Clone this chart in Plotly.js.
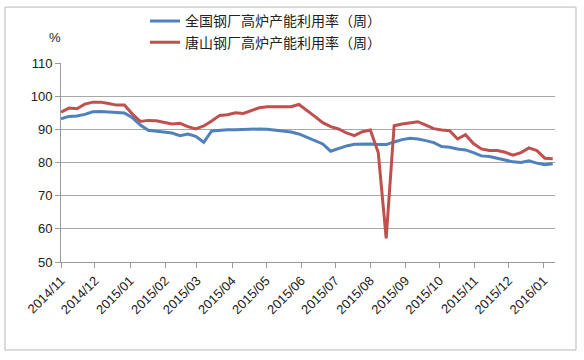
<!DOCTYPE html>
<html>
<head>
<meta charset="utf-8">
<script src="https://cdn.plot.ly/plotly-3.0.1.min.js"></script>
<style>html,body{margin:0;padding:0;background:#fff;}#chart{width:584px;height:360px;}</style>
</head>
<body>
<div id="chart"></div>
<script>
var weeks = [
 "2014-11-01","2014-11-08","2014-11-15","2014-11-22","2014-11-29","2014-12-06","2014-12-13","2014-12-20","2014-12-27",
 "2015-01-03","2015-01-10","2015-01-17","2015-01-24","2015-01-31","2015-02-07","2015-02-14","2015-02-21","2015-02-28",
 "2015-03-07","2015-03-14","2015-03-21","2015-03-28","2015-04-04","2015-04-11","2015-04-18","2015-04-25",
 "2015-05-02","2015-05-09","2015-05-16","2015-05-23","2015-05-30","2015-06-06","2015-06-13","2015-06-20","2015-06-27",
 "2015-07-04","2015-07-11","2015-07-18","2015-07-25","2015-08-01","2015-08-08","2015-08-15","2015-08-22","2015-08-29",
 "2015-09-05","2015-09-12","2015-09-19","2015-09-26","2015-10-03","2015-10-10","2015-10-17","2015-10-24","2015-10-31",
 "2015-11-07","2015-11-14","2015-11-21","2015-11-28","2015-12-05","2015-12-12","2015-12-19","2015-12-26",
 "2016-01-02","2016-01-09"
];
var nationalRate = [
 93.2,93.9,94.0,94.5,95.3,95.4,95.2,95.0,94.9,
 93.5,91.3,89.7,89.4,89.3,88.9,88.1,88.6,87.9,
 86.1,89.5,89.8,89.9,89.9,90.0,90.1,90.1,
 90.0,89.7,89.5,89.2,88.6,87.6,86.7,85.6,83.4,
 84.3,85.0,85.5,85.6,85.6,85.4,85.4,86.2,86.9,
 87.3,87.1,86.6,86.0,84.8,84.6,84.1,83.8,83.0,
 82.0,81.8,81.3,80.9,80.2,80.0,80.5,79.8,
 79.3,79.6
];
var tangshanRate = [
 95.2,96.4,96.2,97.6,98.2,98.2,97.8,97.3,97.3,
 94.6,92.4,92.7,92.6,92.2,91.6,91.8,90.8,90.1,
 91.0,92.5,94.2,94.4,95.0,94.8,95.7,96.5,
 96.8,96.8,96.8,96.8,97.5,95.8,93.9,92.0,90.8,
 90.1,88.9,88.1,89.3,89.8,83.0,57.1,91.1,91.6,
 91.9,92.3,91.3,90.2,89.8,89.6,87.1,88.4,85.7,
 84.1,83.6,83.6,83.1,82.2,83.0,84.4,83.6,
 81.3,81.1
];
var seriesNames = ["全国钢厂高炉产能利用率（周）","唐山钢厂高炉产能利用率（周）"];
var yUnit = "%";

var traces = [
 {x: weeks, y: nationalRate, name: seriesNames[0], legendgroup: "a", type: "scatter", mode: "lines",
  line: {color: "#4F81BD", width: 3}},
 {x: weeks, y: tangshanRate, name: seriesNames[1], legendgroup: "b", type: "scatter", mode: "lines",
  line: {color: "#C0504D", width: 3}}
];
var font = "'Liberation Sans', Arial, sans-serif";
var layout = {
 width: 584, height: 360,
 margin: {l: 61, r: 29, t: 63, b: 98, autoexpand: false},
 paper_bgcolor: "#fff", plot_bgcolor: "#fff",
 font: {family: font, size: 12, color: "#222"},
 showlegend: true,
 legend: {x: 0.17, xref: "paper", y: 0.985, yref: "container", xanchor: "left", yanchor: "top", orientation: "v",
  bgcolor: "rgba(0,0,0,0)", tracegroupgap: 0, itemwidth: 30,
  font: {family: "'Noto Sans CJK SC', sans-serif", size: 14, color: "#222"}},
 xaxis: {type: "date", range: ["2014-11-01", "2016-01-11"], tick0: "2014-11-01", dtick: "M1",
  tickformat: "%Y/%m", tickangle: -45, showgrid: false, showline: true, linecolor: "#9a9a9a",
  linewidth: 1, ticks: "outside", ticklen: 5, tickcolor: "#9a9a9a", automargin: false,
  tickfont: {family: font, size: 13, color: "#222"}, zeroline: false, fixedrange: true},
 yaxis: {range: [50, 110], dtick: 10, showgrid: true, gridcolor: "#a8a8a8", gridwidth: 1,
  showline: true, linecolor: "#9a9a9a", linewidth: 1, ticks: "outside", ticklen: 5, automargin: false,
  tickcolor: "#9a9a9a", tickfont: {family: font, size: 13, color: "#222"}, zeroline: false, fixedrange: true},
 annotations: [{text: yUnit, xref: "paper", yref: "paper", x: -0.012, y: 1.126, yanchor: "middle", xanchor: "center",
  showarrow: false, font: {family: font, size: 13, color: "#222"}}],
 shapes: [{type: "rect", xref: "paper", yref: "paper", x0: -0.1134, x1: 1.0425, y0: -0.442, y1: 1.281,
  line: {color: "#b8b8b8", width: 1}, fillcolor: "rgba(0,0,0,0)"}]
};
Plotly.newPlot("chart", traces, layout, {displayModeBar: false, staticPlot: true});
</script>
</body>
</html>
